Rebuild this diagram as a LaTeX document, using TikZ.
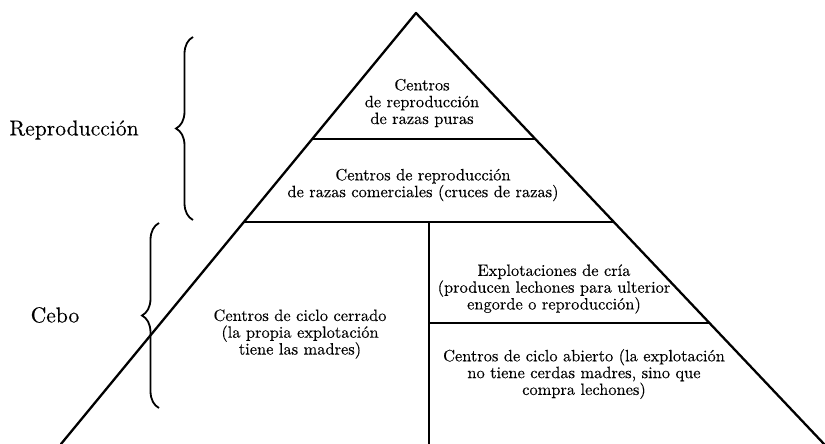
\documentclass[tikz,border=0pt]{standalone}
\usepackage{fontspec}
\setmainfont{lmroman10-regular.otf}[FakeBold=0.2]
\usetikzlibrary{decorations.pathreplacing}
\begin{document}
\begin{tikzpicture}[x=1pt,y=-1pt,
  edge/.style={line width=2.3pt,line cap=round,line join=round},
  thickline/.style={line width=2.8pt},
  thinline/.style={line width=1.1pt},
  bracestyle/.style={line width=1.8pt,decorate,decoration={brace,amplitude=17pt,aspect=0.5}},
  txt/.style={inner sep=0pt,align=center,font=\fontsize{16.4}{16.8}\selectfont},
  lbl/.style={inner sep=0pt,font=\fontsize{21.6}{26}\selectfont}]
\useasboundingbox (0,0) rectangle (825,444);
% outline
\coordinate (apex) at (416,13);
\coordinate (bl) at (61,444);
\coordinate (br) at (824,444);
\coordinate (l1) at (312.2,139);
\coordinate (r1) at (535.3,139);
\coordinate (l2) at (243.9,222);
\coordinate (r2) at (613.8,222);
\coordinate (v1) at (429,222);
\coordinate (v2) at (429,444);
\coordinate (m1) at (429,323);
\coordinate (m2) at (709.5,323);
\draw[edge] (bl) -- (apex) -- (br);
\draw[thickline] (l1) -- (r1);
\draw[thickline] (l2) -- (r2);
\draw[thinline] (v1) -- (v2);
\draw[thinline] (m1) -- (m2);
% texts
\node[txt] (puras) at (422,103) {Centros\\de reproducción\\de razas puras};
\node[txt] (comerciales) at (423,185) {Centros de reproducción\\de razas comerciales (cruces de razas)};
\node[txt] (cerrado) at (300,334) {Centros de ciclo cerrado\\(la propia explotación\\tiene las madres)};
\node[txt] (cria) at (554,289) {Explotaciones de cría\\(producen lechones para ulterior\\engorde o reproducción)};
\node[txt] (abierto) at (584,374) {Centros de ciclo abierto (la explotación\\no tiene cerdas madres, sino que\\compra lechones)};
% braces
\coordinate (rb1) at (193,220);
\coordinate (rb2) at (193,37);
\coordinate (cb1) at (159,408);
\coordinate (cb2) at (159,223);
\draw[bracestyle] (rb1) -- (rb2);
\draw[bracestyle] (cb1) -- (cb2);
\node[lbl] (repro) at (74,130) {Reproducción};
\node[lbl] (cebo) at (55,315) {Cebo};
\end{tikzpicture}
\end{document}
